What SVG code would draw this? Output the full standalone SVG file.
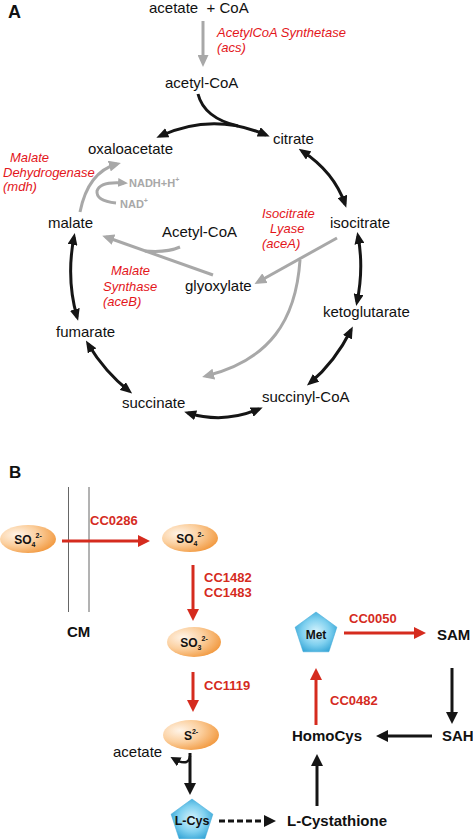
<svg xmlns="http://www.w3.org/2000/svg" width="473" height="839" viewBox="0 0 473 839">
<style>
.t{font-family:"Liberation Sans",Arial,sans-serif;font-size:15px;fill:#111}
.tb{font-family:"Liberation Sans",Arial,sans-serif;font-size:15px;font-weight:bold;fill:#111}
.ri{font-family:"Liberation Sans",Arial,sans-serif;font-size:13px;font-style:italic;fill:#e3161b}
.rb{font-family:"Liberation Sans",Arial,sans-serif;font-size:13px;font-weight:bold;fill:#d52b1e}
.gb{font-family:"Liberation Sans",Arial,sans-serif;font-size:11px;font-weight:bold;fill:#a8a8a8}
.el{font-family:"Liberation Sans",Arial,sans-serif;font-size:12px;font-weight:bold;fill:#111}
.blk{fill:none;stroke:#151515;stroke-width:3}
.gry{fill:none;stroke:#a8a8a8;stroke-width:3}
.red{fill:none;stroke:#d52b1e;stroke-width:3}
.ellipse{fill:url(#og)}
.pent{fill:url(#bg);stroke:#3aa6d6;stroke-width:0.5}
</style>
<defs>
<radialGradient id="og" cx="0.3" cy="0.35" r="0.85">
<stop offset="0" stop-color="#fff4e8"/>
<stop offset="0.45" stop-color="#fbcf9e"/>
<stop offset="1" stop-color="#ef8a25"/>
</radialGradient>
<radialGradient id="bg" cx="0.5" cy="0.5" r="0.6">
<stop offset="0" stop-color="#d8f4fd"/>
<stop offset="0.55" stop-color="#7fd0ef"/>
<stop offset="1" stop-color="#2a9fd3"/>
</radialGradient>
<marker id="ab" viewBox="0 0 12 10" markerWidth="12" markerHeight="10" refX="8" refY="5" orient="auto-start-reverse" markerUnits="userSpaceOnUse"><path d="M0,0 L12,5 L0,10 Z" fill="#151515"/></marker>
<marker id="ag" viewBox="0 0 12 11" markerWidth="12" markerHeight="11" refX="8" refY="5.5" orient="auto" markerUnits="userSpaceOnUse"><path d="M0,0 L12,5.5 L0,11 Z" fill="#a8a8a8"/></marker>
<marker id="ags" viewBox="0 0 10 9" markerWidth="10" markerHeight="9" refX="6" refY="4.5" orient="auto" markerUnits="userSpaceOnUse"><path d="M0,0 L10,4.5 L0,9 Z" fill="#a8a8a8"/></marker>
<marker id="ar" viewBox="0 0 12 12" markerWidth="12" markerHeight="12" refX="8" refY="6" orient="auto" markerUnits="userSpaceOnUse"><path d="M0,0 L12,6 L0,12 Z" fill="#d52b1e"/></marker>
<marker id="ak" viewBox="0 0 12 12" markerWidth="12" markerHeight="12" refX="8" refY="6" orient="auto" markerUnits="userSpaceOnUse"><path d="M0,0 L12,6 L0,12 Z" fill="#151515"/></marker>
<marker id="aks" viewBox="0 0 10 10" markerWidth="10" markerHeight="10" refX="6" refY="5" orient="auto" markerUnits="userSpaceOnUse"><path d="M0,0 L10,5 L0,10 Z" fill="#151515"/></marker>
</defs>

<text class="tb" x="8" y="18" style="font-size:18px">A</text>
<text class="tb" x="9" y="478" style="font-size:17px">B</text>

<!-- Panel A nodes -->
<g id="acetate-coa"><text class="t" x="149" y="13" xml:space="preserve">acetate  + CoA</text></g>
<g id="acetylcoa"><text class="t" x="165" y="88">acetyl-CoA</text></g>
<g id="citrate"><text class="t" x="273" y="144">citrate</text></g>
<g id="oxaloacetate"><text class="t" x="88" y="154">oxaloacetate</text></g>
<g id="malate"><text class="t" x="48" y="228">malate</text></g>
<g id="acetylcoa2"><text class="t" x="162" y="237">Acetyl-CoA</text></g>
<g id="isocitrate"><text class="t" x="330" y="228">isocitrate</text></g>
<g id="glyoxylate"><text class="t" x="185" y="291">glyoxylate</text></g>
<g id="ketoglutarate"><text class="t" x="323" y="317">ketoglutarate</text></g>
<g id="fumarate"><text class="t" x="56" y="337">fumarate</text></g>
<g id="succinate"><text class="t" x="122" y="408">succinate</text></g>
<g id="succinylcoa"><text class="t" x="262" y="402">succinyl-CoA</text></g>
<g id="nadh"><text class="gb" x="129" y="187">NADH+H<tspan font-size="7" dy="-5">+</tspan></text></g>
<g id="nad"><text class="gb" x="120" y="208">NAD<tspan font-size="7" dy="-5">+</tspan></text></g>

<g id="enzyme-labels-a">
<text class="ri" x="217" y="37">AcetylCoA Synthetase</text>
<text class="ri" x="217" y="52">(acs)</text>
<text class="ri" x="10" y="162">Malate</text>
<text class="ri" x="3" y="177">Dehydrogenase</text>
<text class="ri" x="3" y="191">(mdh)</text>
<text class="ri" x="262" y="218">Isocitrate</text>
<text class="ri" x="270" y="233">Lyase</text>
<text class="ri" x="262" y="248">(aceA)</text>
<text class="ri" x="111" y="275">Malate</text>
<text class="ri" x="103" y="291">Synthase</text>
<text class="ri" x="103" y="306">(aceB)</text>
</g>

<!-- Panel B nodes -->
<g id="so4-out"><ellipse class="ellipse" cx="28" cy="539" rx="28" ry="14"/><text class="el" x="28" y="544" text-anchor="middle">SO<tspan font-size="7" dy="3">4</tspan><tspan font-size="7" dy="-9">2-</tspan></text></g>
<g id="so4-in"><ellipse class="ellipse" cx="190" cy="538" rx="28" ry="14"/><text class="el" x="190" y="543" text-anchor="middle">SO<tspan font-size="7" dy="3">4</tspan><tspan font-size="7" dy="-9">2-</tspan></text></g>
<g id="so3"><ellipse class="ellipse" cx="194" cy="642" rx="27" ry="15"/><text class="el" x="194" y="647" text-anchor="middle">SO<tspan font-size="7" dy="3">3</tspan><tspan font-size="7" dy="-9">2-</tspan></text></g>
<g id="s2"><ellipse class="ellipse" cx="191" cy="735" rx="28" ry="15"/><text class="el" x="191" y="740" text-anchor="middle">S<tspan font-size="7" dy="-6">2-</tspan></text></g>
<g id="membrane">
<line x1="68.5" y1="487" x2="68.5" y2="612" stroke="#666" stroke-width="1"/>
<line x1="89" y1="487" x2="89" y2="612" stroke="#666" stroke-width="1"/>
<text class="tb" x="67" y="637">CM</text>
</g>
<g id="met"><polygon class="pent" points="316,612 336.9,627.2 328.9,651.8 303.1,651.8 295.1,627.2"/><text class="el" x="316" y="639" text-anchor="middle">Met</text></g>
<g id="lcys"><polygon class="pent" points="192,799 212.9,814.2 204.9,838.8 179.1,838.8 171.1,814.2"/><text class="el" x="192" y="825" text-anchor="middle" style="font-size:12.5px">L-Cys</text></g>
<g id="sam"><text class="tb" x="437" y="640">SAM</text></g>
<g id="sah"><text class="tb" x="442" y="741">SAH</text></g>
<g id="homocys"><text class="tb" x="292" y="741">HomoCys</text></g>
<g id="lcystathione"><text class="tb" x="287" y="826">L-Cystathione</text></g>
<g id="acetate-b"><text class="t" x="113" y="757">acetate</text></g>

<g id="enzyme-labels-b">
<text class="rb" x="90" y="525">CC0286</text>
<text class="rb" x="204" y="582">CC1482</text>
<text class="rb" x="204" y="597">CC1483</text>
<text class="rb" x="204" y="690">CC1119</text>
<text class="rb" x="330" y="705">CC0482</text>
<text class="rb" x="349" y="623">CC0050</text>
</g>

<!-- Connectors -->
<g id="connectors">
<path class="gry" d="M203,21 L203,63" marker-end="url(#ag)"/>
<path class="blk" d="M160,136 Q213,112 266,135" marker-start="url(#ab)" marker-end="url(#ab)"/>
<path class="blk" d="M198,94 Q204,118 238,126"/>
<path class="blk" d="M302,151 Q334,172 345,204" marker-start="url(#ab)" marker-end="url(#ab)"/>
<path class="blk" d="M358,236 Q364,268 357,302" marker-start="url(#ab)" marker-end="url(#ab)"/>
<path class="blk" d="M351,330 Q335,362 310,383" marker-start="url(#ab)" marker-end="url(#ab)"/>
<path class="blk" d="M259,409 Q224,424 188,413" marker-start="url(#ab)" marker-end="url(#ab)"/>
<path class="blk" d="M129,391 Q105,372 88,344" marker-start="url(#ab)" marker-end="url(#ab)"/>
<path class="blk" d="M77,317 Q66,278 74,237" marker-start="url(#ab)" marker-end="url(#ab)"/>
<path class="gry" d="M80,212 Q88,172 117,164" marker-end="url(#ag)"/>
<path class="gry" d="M116,203 Q96,201 97,191 Q100,181 124,183" marker-end="url(#ags)"/>
<path class="gry" d="M337,238 L258,282" marker-end="url(#ag)"/>
<path class="gry" d="M300,260 C296,320 270,360 206,376" marker-end="url(#ag)"/>
<path class="gry" d="M213,275 L106,237" marker-end="url(#ag)"/>
<path class="gry" d="M180,247 Q166,253 145,251"/>

<path class="red" d="M62,541 L146,541" marker-end="url(#ar)"/>
<path class="red" d="M193,565 L193,617" marker-end="url(#ar)"/>
<path class="red" d="M193,672 L193,708" marker-end="url(#ar)"/>
<path class="red" d="M316,725 L316,672" marker-end="url(#ar)"/>
<path class="red" d="M344,633 L422,633" marker-end="url(#ar)"/>
<path class="blk" d="M190,753 L190,791" marker-end="url(#ak)"/>
<path class="blk" d="M190,756 Q189,767 174,759" style="stroke-width:2.5" marker-end="url(#aks)"/>
<path class="blk" d="M219,821 L272,821" stroke-dasharray="6,3" marker-end="url(#ak)"/>
<path class="blk" d="M317,806 L317,758" marker-end="url(#ak)"/>
<path class="blk" d="M432,736 L380,736" marker-end="url(#ak)"/>
<path class="blk" d="M452,668 L452,720" marker-end="url(#ak)"/>
</g>
</svg>
